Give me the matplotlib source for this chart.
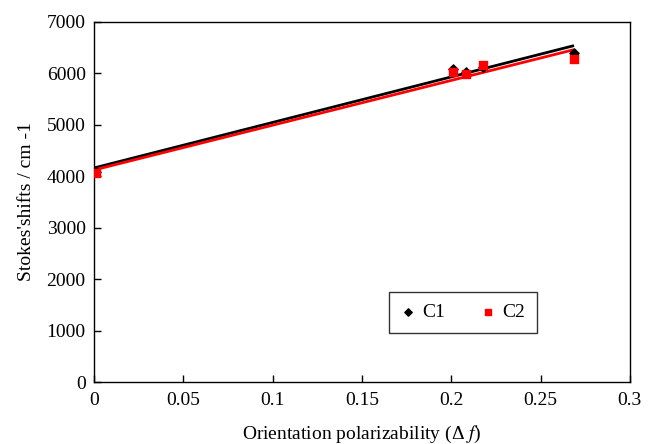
import matplotlib
matplotlib.use("Agg")
import matplotlib.pyplot as plt
import numpy as np

plt.rcParams['font.family'] = ['Liberation Serif', 'DejaVu Serif']
plt.rcParams['mathtext.fontset'] = 'stix'

# data
c1_x = [0.001, 0.2008, 0.2082, 0.2176, 0.2687]
c1_y = [4090, 6086, 6018, 6130, 6390]
c2_x = [0.001, 0.2008, 0.2082, 0.2176, 0.2687]
c2_y = [4070, 6034, 5989, 6164, 6280]

# linear fits
c1_fit = (8851, 4161)   # slope, intercept
c2_fit = (8705, 4122)
fit_range = [0.0, 0.268]

fig = plt.figure(figsize=(6.48, 4.44), dpi=100)
ax = fig.add_axes([0.145, 0.1396, 0.827, 0.811])

xs = np.array(fit_range)
ax.plot(xs, c1_fit[0] * xs + c1_fit[1], color='black', lw=2, zorder=2)
ax.plot(xs, c2_fit[0] * xs + c2_fit[1], color='red', lw=2, zorder=2)
ax.scatter(c1_x, c1_y, marker='D', s=22, color='black', zorder=3, label='C1')
ax.scatter(c2_x, c2_y, marker='s', s=30, color='red', zorder=4, label='C2')

ax.set_xlim(0, 0.3)
ax.set_ylim(0, 7000)
ax.set_xticks([0, 0.05, 0.1, 0.15, 0.2, 0.25, 0.3])
ax.set_xticklabels(['0', '0.05', '0.1', '0.15', '0.2', '0.25', '0.3'])
ax.set_yticks(range(0, 7001, 1000))
ax.tick_params(direction='in', length=5, width=1, labelsize=14)
ax.tick_params(axis='y', pad=6)
ax.tick_params(axis='x', pad=7)
for s in ax.spines.values():
    s.set_linewidth(1)

ax.set_xlabel('Orientation polarizability (Δ $f$)', fontsize=14, labelpad=11)
ax.set_ylabel("Stokes'shifts / cm -1", fontsize=14, labelpad=8)

leg = ax.legend(ncol=2, loc='lower left', bbox_to_anchor=(0.55, 0.136, 0.276, 0.114),
                mode='expand', frameon=True, fancybox=False, edgecolor='black',
                fontsize=14, handlelength=0.8, handletextpad=0.3, borderaxespad=0,
                borderpad=0.6, columnspacing=1.5, scatterpoints=1, markerscale=0.8)
leg.get_frame().set_linewidth(1)

fig.savefig('out.png', dpi=100)
